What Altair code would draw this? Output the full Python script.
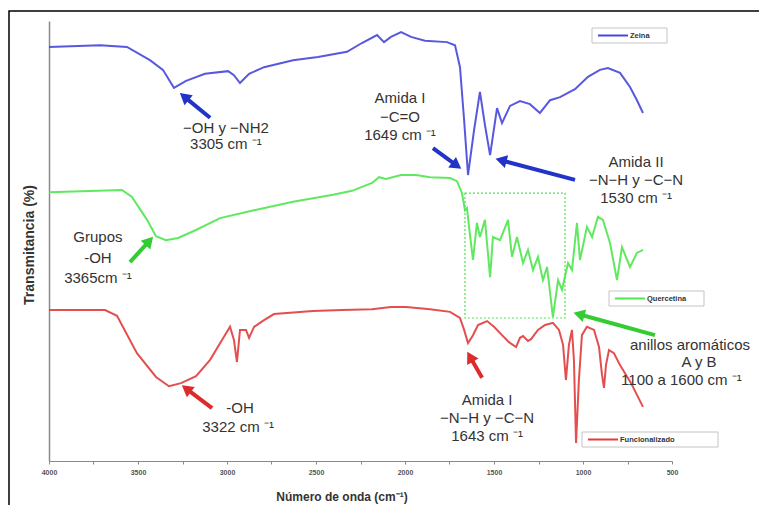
import math
import altair as alt
import pandas as pd

# ---------------- data ----------------
zeina_wn = [4000, 3713, 3562, 3433, 3360, 3298, 3230, 3124, 2994, 2961, 2927, 2876, 2792, 2629,
            2489, 2326, 2242, 2157, 2118, 2079, 2022, 1966, 1888, 1764, 1719, 1691, 1668, 1646,
            1612, 1579, 1551, 1522, 1483, 1455, 1410, 1354, 1298, 1242, 1185, 1129, 1045, 972,
            905, 860, 792, 736, 697, 663]
zeina_t = [94.1, 94.5, 94.1, 91.1, 88.9, 84.8, 86.4, 88.0, 88.6, 87.7, 85.9, 88.0, 89.5, 91.1,
           91.8, 93.0, 95.0, 96.8, 95.2, 96.4, 97.5, 96.4, 95.5, 95.2, 94.5, 89.5, 77.5, 65.0,
           75.2, 83.9, 76.4, 69.5, 80.2, 76.8, 80.7, 81.8, 81.1, 79.1, 82.0, 82.7, 84.5, 87.3,
           88.9, 89.3, 88.2, 85.0, 82.0, 79.1]

querc_wn = [4000, 3590, 3534, 3449, 3399, 3343, 3275, 3174, 3039, 2848, 2629, 2404, 2298, 2185,
            2146, 2107, 2022, 1938, 1859, 1747, 1708, 1680, 1663, 1652, 1635, 1618, 1596, 1579,
            1551, 1522, 1506, 1466, 1421, 1399, 1371, 1337, 1309, 1281, 1253, 1225, 1202, 1169,
            1140, 1118, 1084, 1062, 1034, 1017, 978, 949, 916, 888, 848, 809, 781, 736, 697, 663]
querc_t = [61.1, 61.6, 60.0, 54.8, 51.1, 50.2, 50.7, 52.5, 55.2, 57.0, 58.9, 60.5, 61.4, 63.2,
           64.5, 64.1, 65.0, 65.0, 64.5, 64.3, 63.6, 60.9, 57.0, 57.5, 51.4, 45.7, 54.1, 50.9,
           54.8, 41.8, 50.9, 50.2, 54.8, 46.4, 50.9, 45.0, 48.0, 43.4, 46.4, 41.1, 44.1, 32.7,
           41.1, 38.9, 45.0, 43.4, 54.1, 45.7, 53.2, 50.9, 55.5, 54.8, 49.5, 41.1, 48.6, 44.1,
           47.3, 48.0]

func_wn = [4000, 3685, 3618, 3506, 3399, 3326, 3258, 3174, 3095, 3028, 2983, 2961, 2944, 2927,
           2893, 2876, 2848, 2792, 2736, 2517, 2354, 2185, 2079, 1994, 1859, 1747, 1691, 1668,
           1646, 1618, 1590, 1539, 1500, 1455, 1416, 1376, 1354, 1337, 1309, 1292, 1253, 1213,
           1169, 1135, 1112, 1096, 1079, 1062, 1051, 1039, 1023, 1006, 978, 938, 910, 893, 882,
           871, 854, 826, 792, 730, 663]
func_t = [34.3, 34.3, 33.0, 24.5, 19.1, 17.0, 17.7, 19.3, 23.0, 27.5, 30.5, 27.5, 22.5, 29.8,
          29.8, 28.0, 30.5, 32.0, 33.4, 34.1, 34.3, 34.5, 35.0, 35.0, 34.5, 33.9, 32.5, 29.8,
          26.8, 28.6, 30.9, 31.8, 30.5, 28.6, 27.0, 25.9, 28.0, 28.4, 27.3, 27.7, 29.8, 30.9,
          31.4, 29.8, 26.4, 18.4, 26.4, 29.8, 23.0, 4.1, 18.4, 28.6, 30.5, 29.8, 25.9, 19.5,
          16.6, 21.8, 25.2, 24.5, 21.8, 17.7, 12.3]

x_ticks = [4000, 3500, 3000, 2500, 2000, 1500, 1000, 500]

# annotation texts (wavenumber, transmittance, text)
ann_text = ["−OH y −NH2", "3305 cm ⁻¹",
            "Amida I", "−C=O", "1649 cm ⁻¹",
            "Amida II", "−N−H y −C−N", "1530 cm ⁻¹",
            "Grupos", "-OH", "3365cm ⁻¹",
            "-OH", "3322 cm ⁻¹",
            "Amida I", "−N−H y −C−N", "1643 cm ⁻¹"]
ann_wn = [3006, 3006, 2028, 2028, 2028, 702, 702, 702, 3725, 3725, 3725, 2927, 2938, 1539, 1539, 1539]
ann_t = [75.7, 72.0, 82.5, 78.2, 74.1, 68.0, 63.9, 59.8, 50.9, 46.1, 41.6, 12.0, 7.7, 13.9, 9.8, 5.7]

left_text = ["anillos aromáticos", "1100 a 1600 cm ⁻¹"]
left_wn = [736, 786]
left_t = [26.4, 18.4]
aby_text = ["A y B"]
aby_wn = [348]
aby_t = [22.5]

# arrows: tail -> head
arr_wn0 = [3095, 1843, 1045, 3545, 596, 3084, 1567]
arr_t0 = [78.0, 71.1, 63.9, 45.2, 28.6, 12.0, 18.9]
arr_wn1 = [3258, 1691, 1483, 3421, 1045, 3247, 1646]
arr_t1 = [83.4, 66.6, 68.6, 50.7, 33.6, 17.0, 24.5]
arr_col = ["#2233c8", "#2233c8", "#2233c8", "#33cc33", "#33cc33", "#dd2a2a", "#dd2a2a"]

box_wn = [1663, 1101]
box_t = [60.9, 32.5]

# ---------------- styling ----------------
W, H = 623, 440
XMIN, XMAX = 500, 4000
PX_X = W / (XMAX - XMIN)
PX_Y = H / 100.0
FONT = "Liberation Sans"
BLUE, GREEN, RED = "#4646dc", "#4fe64f", "#e03c3c"
TXT = "#333333"
AFS = 15

xscale = alt.Scale(domain=[XMIN, XMAX], reverse=True, nice=False, zero=False)
yscale = alt.Scale(domain=[0, 100], nice=False, zero=False)

xaxis = alt.Axis(values=list(range(500, 4001, 250)),
                 labelExpr="datum.value % 500 == 0 ? datum.label : ''",
                 format="d", title=None, grid=False, domainColor="#8a8a8a",
                 tickColor="#8a8a8a", tickSize=3, labelFontSize=7, labelFontWeight="bold",
                 labelColor="#555555", labelPadding=4, labelFont=FONT, domainWidth=1.2,
                 labelFlush=False)
yaxis = alt.Axis(title=None, labels=False, ticks=False, grid=False, domainColor="#8a8a8a",
                 domainWidth=1.5)

X = alt.X("wn:Q", scale=xscale, axis=xaxis)
Y = alt.Y("t:Q", scale=yscale, axis=yaxis)


def series(wn, t, color):
    df = pd.DataFrame({"wn": wn, "t": t})
    return alt.Chart(df).mark_line(color=color, strokeWidth=2, opacity=0.9).encode(x=X, y=Y)


lines = [series(zeina_wn, zeina_t, BLUE), series(querc_wn, querc_t, GREEN), series(func_wn, func_t, RED)]

# dotted box
box_df = pd.DataFrame({"wn": [box_wn[0]], "wn2": [box_wn[1]], "t": [box_t[0]], "t2": [box_t[1]]})
box = alt.Chart(box_df).mark_rect(fillOpacity=0, stroke=GREEN, strokeWidth=1.2,
                                  strokeDash=[2, 2]).encode(
    x=alt.X("wn:Q", scale=xscale), x2="wn2", y=alt.Y("t:Q", scale=yscale), y2="t2")

# annotation texts
ann_df = pd.DataFrame({"wn": ann_wn, "t": ann_t, "txt": ann_text})
ann = alt.Chart(ann_df).mark_text(font=FONT, fontSize=AFS, color=TXT, align="center",
                                  baseline="middle").encode(
    x=alt.X("wn:Q", scale=xscale), y=alt.Y("t:Q", scale=yscale), text="txt:N")
left_df = pd.DataFrame({"wn": left_wn, "t": left_t, "txt": left_text})
ann_left = alt.Chart(left_df).mark_text(font=FONT, fontSize=AFS, color=TXT, align="left",
                                        baseline="middle").encode(
    x=alt.X("wn:Q", scale=xscale), y=alt.Y("t:Q", scale=yscale), text="txt:N")
aby_df = pd.DataFrame({"wn": aby_wn, "t": aby_t, "txt": aby_text})
ann_aby = alt.Chart(aby_df).mark_text(font=FONT, fontSize=AFS, color=TXT, align="center",
                                      baseline="middle").encode(
    x=alt.X("wn:Q", scale=xscale), y=alt.Y("t:Q", scale=yscale), text="txt:N")

# arrows
rows = []
HEAD = 6.0  # px back from tip to the head centre
for w0, t0, w1, t1, c in zip(arr_wn0, arr_t0, arr_wn1, arr_t1, arr_col):
    dxp = (w0 - w1) * PX_X
    dyp = -(t1 - t0) * PX_Y
    L = math.hypot(dxp, dyp)
    ux, uy = dxp / L, dyp / L
    ang = math.degrees(math.atan2(ux, -uy)) % 360
    wc = w1 + HEAD * ux / PX_X
    tc = t1 + HEAD * uy / PX_Y
    rows.append({"w0": w0, "t0": t0, "wc": wc, "tc": tc, "ang": ang, "c": c})
arr_df = pd.DataFrame(rows)
shafts = alt.Chart(arr_df).mark_rule(strokeWidth=4, strokeCap="butt").encode(
    x=alt.X("w0:Q", scale=xscale), y=alt.Y("t0:Q", scale=yscale), x2="wc", y2="tc",
    color=alt.Color("c:N", scale=None))
heads = alt.Chart(arr_df).mark_point(shape="triangle", filled=True, size=170, opacity=1).encode(
    x=alt.X("wc:Q", scale=xscale), y=alt.Y("tc:Q", scale=yscale),
    angle=alt.Angle("ang:Q", scale=None), color=alt.Color("c:N", scale=None))

# legends (three separate boxes)
one = pd.DataFrame({"k": [0]})


def legend_box(x0, y0, w, label, color):
    h = 15
    rect = alt.Chart(one).mark_rect(fill="white", stroke="#c4c4c4", strokeWidth=1).encode(
        x=alt.value(x0), x2=alt.value(x0 + w), y=alt.value(y0), y2=alt.value(y0 + h))
    ln = alt.Chart(one).mark_rule(color=color, strokeWidth=2).encode(
        x=alt.value(x0 + 6), x2=alt.value(x0 + 36), y=alt.value(y0 + h / 2))
    tx = alt.Chart(one).mark_text(text=label, font=FONT, fontSize=7.5, fontWeight="bold",
                                  color="#333333", align="left", baseline="middle").encode(
        x=alt.value(x0 + 38), y=alt.value(y0 + h / 2))
    return [rect, ln, tx]


legends = (legend_box(543, 7, 75, "Zeina", BLUE)
           + legend_box(560, 270, 95, "Quercetina", GREEN)
           + legend_box(533, 411, 136, "Funcionalizado", RED))

# titles
ytitle = alt.Chart(one).mark_text(text="Transmitancia (%)", font=FONT, fontSize=14,
                                  fontWeight="bold", color=TXT, angle=270, align="center",
                                  baseline="middle").encode(x=alt.value(-19), y=alt.value(224))
xtitle = alt.Chart(one).mark_text(text="Número de onda (cm⁻¹)", font=FONT, fontSize=12,
                                  fontWeight="bold", color=TXT, align="center",
                                  baseline="middle").encode(x=alt.value(293), y=alt.value(476))

frame = alt.Chart(one).mark_rect(fillOpacity=0, stroke="black", strokeWidth=1.5).encode(
    x=alt.value(-40), x2=alt.value(800), y=alt.value(-10), y2=alt.value(600))

chart = alt.layer(frame, *lines, box, shafts, heads, ann, ann_left, ann_aby, *legends,
                  ytitle, xtitle).properties(
    width=W, height=H,
    autosize=alt.AutoSizeParams(type="none"),
    padding={"left": 41, "top": 13, "right": 87, "bottom": 44},
    background="white",
).configure_view(stroke=None)

chart.save("out.html", embed_options={"renderer": "svg", "actions": False})
